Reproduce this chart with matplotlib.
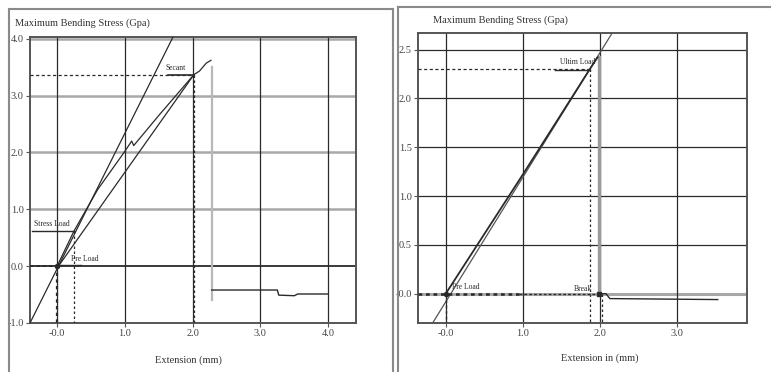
import matplotlib
matplotlib.use("Agg")
import matplotlib.pyplot as plt
from matplotlib.lines import Line2D

plt.rcParams['font.family'] = ['Liberation Serif', 'DejaVu Serif']

# ---------------- data: left chart ----------------
L_xticks = [0.0, 1.0, 2.0, 3.0, 4.0]
L_xticklabels = ["-0.0", "1.0", "2.0", "3.0", "4.0"]
L_yticks = [-1.0, 0.0, 1.0, 2.0, 3.0, 4.0]
L_yticklabels = ["-1.0", "0.0", "1.0", "2.0", "3.0", "4.0"]
L_modulus_x = [-0.40, 1.71]
L_modulus_y = [-1.0, 4.03]
L_spec_x = [0.0, 0.25, 0.6, 1.0, 1.1, 1.13, 1.5, 2.02, 2.1, 2.2, 2.27]
L_spec_y = [0.0, 0.62, 1.35, 2.02, 2.2, 2.12, 2.65, 3.37, 3.43, 3.57, 3.62]
L_secant_x = [0.02, 2.02]
L_secant_y = [0.0, 3.37]
L_break_x = [2.28, 2.28]
L_break_y = [3.5, -0.6]
L_post_x = [2.28, 3.25, 3.27, 3.5, 3.55, 4.0]
L_post_y = [-0.42, -0.42, -0.51, -0.52, -0.49, -0.49]
L_secant_pt = (2.02, 3.37)
L_stress_pt = (0.25, 0.62)
L_preload_pt = (0.0, 0.0)

# ---------------- data: right chart ----------------
R_xticks = [0.0, 1.0, 2.0, 3.0]
R_xticklabels = ["-0.0", "1.0", "2.0", "3.0"]
R_yticks = [0.0, 0.5, 1.0, 1.5, 2.0, 2.5]
R_yticklabels = ["-0.0", "0.5", "1.0", "1.5", "2.0", "2.5"]
R_modulus_x = [-0.17, 2.16]
R_modulus_y = [-0.30, 2.67]
R_spec_x = [0.0, 0.5, 1.0, 1.5, 1.87, 1.97]
R_spec_y = [0.0, 0.61, 1.22, 1.84, 2.30, 2.42]
R_break_x = [1.99, 1.99]
R_break_y = [2.42, 0.0]
R_post_x = [1.99, 2.08, 2.13, 3.53]
R_post_y = [0.0, 0.0, -0.05, -0.06]
R_ult_pt = (1.87, 2.30)
R_breakdash_x = 2.03

W, H = 771, 372
fig = plt.figure(figsize=(W / 100, H / 100), dpi=100)

def fx(px):
    return px / W

def fy(py):
    return 1 - py / H

# panel frames
frame_c = "#8a8a8a"
fig.add_artist(Line2D([fx(9), fx(393)], [fy(9), fy(9)], color=frame_c, lw=1.5))
fig.add_artist(Line2D([fx(9), fx(9)], [fy(9), fy(371)], color=frame_c, lw=1.5))
fig.add_artist(Line2D([fx(393), fx(393)], [fy(9), fy(371)], color=frame_c, lw=1.5))
fig.add_artist(Line2D([fx(398), fx(771)], [fy(7), fy(7)], color=frame_c, lw=1.5))
fig.add_artist(Line2D([fx(398), fx(398)], [fy(7), fy(371)], color=frame_c, lw=1.5))

dark = "#2a2a2a"
gray = "#a8a8a8"
fs = 7.5

def style_axes(ax, xt, xtl, yt, ytl):
    ax.set_xticks(xt)
    ax.set_xticklabels(xtl)
    ax.set_yticks(yt)
    ax.set_yticklabels(ytl)
    for s in ax.spines.values():
        s.set_color("#555555")
        s.set_linewidth(1.4)
    ax.tick_params(axis="both", labelsize=fs, colors="#555555", labelcolor="#444444",
                   length=3, width=0.8, direction="out", pad=1.5)

# ---------------- left chart ----------------
axL = fig.add_axes([fx(30), fy(323), fx(356) - fx(30), fy(37) - fy(323)])
axL.set_xlim(-0.40, 4.41)
axL.set_ylim(-1.0, 4.03)
style_axes(axL, L_xticks, L_xticklabels, L_yticks, L_yticklabels)
for yv in [1.0, 2.0, 3.0, 4.0]:
    axL.axhline(yv, color=gray, lw=1.8, zorder=1)
axL.axhline(0.0, color=dark, lw=1.3, zorder=1)
for xv in L_xticks:
    axL.axvline(xv, color=dark, lw=0.9, zorder=1)

axL.plot(L_modulus_x, L_modulus_y, color=dark, lw=0.9, zorder=3)
axL.plot(L_spec_x, L_spec_y, color=dark, lw=0.9, zorder=3)
axL.plot(L_secant_x, L_secant_y, color=dark, lw=0.9, zorder=3)
axL.plot(L_break_x, L_break_y, color="#b8b8b8", lw=1.6, zorder=2)
axL.plot(L_post_x, L_post_y, color=dark, lw=1.0, zorder=3)

# marker dashed guides
sx, sy = L_secant_pt
axL.plot([-0.40, sx], [sy, sy], color=dark, lw=0.9, ls=(0, (2.5, 2)), zorder=3)
axL.plot([sx, sx], [sy, -1.0], color=dark, lw=0.9, ls=(0, (2, 2)), zorder=3)
axL.plot([1.64, sx], [sy, sy], color=dark, lw=1.2, zorder=4)
axL.text(1.60, sy + 0.05, "Secant", fontsize=5.5, color=dark, va="bottom", ha="left")

tx, ty = L_stress_pt
axL.plot([-0.37, tx], [ty, ty], color=dark, lw=1.0, zorder=4)
axL.plot([tx, tx], [ty, -1.0], color=dark, lw=0.9, ls=(0, (2, 2)), zorder=3)
axL.text(-0.34, ty + 0.05, "Stress Load", fontsize=5.5, color=dark, va="bottom", ha="left")

px0, py0 = L_preload_pt
axL.plot([-0.40, px0], [py0, py0], color=dark, lw=1.3, ls=(0, (2, 1.5)), zorder=4)
axL.plot([px0, px0], [py0, -1.0], color=dark, lw=1.6, ls=(0, (1.5, 1.5)), zorder=4)
axL.plot([px0, 0.35], [0.02, 0.02], color=dark, lw=1.0, zorder=4)
axL.plot([px0], [py0], marker="o", ms=3, color=dark, zorder=5)
axL.text(0.20, 0.06, "Pre Load", fontsize=5.5, color=dark, va="bottom", ha="left")

fig.text(fx(15), fy(23), "Maximum Bending Stress (Gpa)", fontsize=fs, color="#333333",
         ha="left", va="center")
fig.text(fx(188), fy(360), "Extension (mm)", fontsize=fs, color="#333333",
         ha="center", va="center")

# ---------------- right chart ----------------
axR = fig.add_axes([fx(418), fy(323), fx(747) - fx(418), fy(33) - fy(323)])
axR.set_xlim(-0.36, 3.91)
axR.set_ylim(-0.30, 2.67)
style_axes(axR, R_xticks, R_xticklabels, R_yticks, R_yticklabels)
for yv in [0.5, 1.0, 1.5, 2.0, 2.5]:
    axR.axhline(yv, color=dark, lw=0.9, zorder=1)
axR.axhline(0.0, color=gray, lw=2.2, zorder=1)
for xv in R_xticks:
    axR.axvline(xv, color=dark, lw=0.9, zorder=1)

axR.plot(R_modulus_x, R_modulus_y, color="#555555", lw=0.9, zorder=3)
axR.plot(R_spec_x, R_spec_y, color=dark, lw=1.3, zorder=3)
axR.plot(R_break_x, R_break_y, color="#9a9a9a", lw=2.4, zorder=2)
axR.plot(R_post_x, R_post_y, color=dark, lw=1.0, zorder=3)

ux, uy = R_ult_pt
axR.plot([-0.36, ux], [uy, uy], color=dark, lw=0.9, ls=(0, (2.5, 2)), zorder=3)
axR.plot([ux, ux], [uy, -0.30], color=dark, lw=0.9, ls=(0, (2, 2)), zorder=3)
axR.plot([1.42, ux], [uy - 0.01, uy - 0.01], color=dark, lw=1.0, zorder=4)
axR.text(1.48, uy + 0.03, "Ultim Load", fontsize=5.5, color=dark, va="bottom", ha="left")

axR.plot([-0.36, 0.95], [0.0, 0.0], color=dark, lw=1.8, ls=(0, (1.5, 1.5)), zorder=4)
axR.plot([0.95, 1.99], [0.0, 0.0], color=dark, lw=1.0, ls=(0, (2, 1.5)), zorder=4)
axR.plot([0.0, 0.0], [0.0, -0.30], color=dark, lw=1.0, ls=(0, (2, 2)), zorder=4)
axR.plot([R_breakdash_x, R_breakdash_x], [0.0, -0.30], color=dark, lw=0.9,
         ls=(0, (2, 2)), zorder=4)
axR.plot([0.0], [0.0], marker="o", ms=3, color=dark, zorder=5)
axR.plot([1.99], [0.0], marker="s", ms=2.5, color=dark, zorder=5)
axR.text(0.08, 0.03, "Pre Load", fontsize=5.5, color=dark, va="bottom", ha="left")
axR.text(1.66, 0.01, "Break", fontsize=5.5, color=dark, va="bottom", ha="left")

fig.text(fx(433), fy(20), "Maximum Bending Stress (Gpa)", fontsize=fs, color="#333333",
         ha="left", va="center")
fig.text(fx(600), fy(358), "Extension in (mm)", fontsize=fs, color="#333333",
         ha="center", va="center")

fig.savefig("out.png", dpi=100)
